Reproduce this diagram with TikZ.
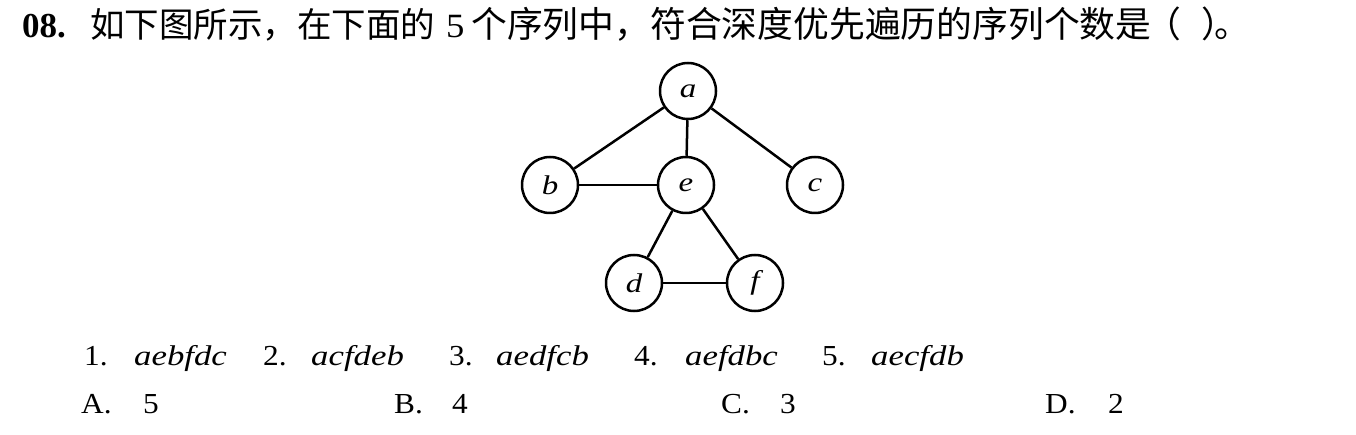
\documentclass[tikz,border=0pt]{standalone}
\usepackage{fontspec}
\setmainfont{Liberation Serif}
\newfontfamily\cjk{Noto Sans CJK SC}
\newfontfamily\romfont{Liberation Serif}[FakeStretch=1.08]
\newfontfamily\itfont{Liberation Serif Italic}[FakeStretch=1.22]
\begin{document}
\begin{tikzpicture}[x=1pt,y=-1pt,
  vtx/.style={draw,circle,line width=2.5pt,minimum size=56pt,inner sep=0pt,font=\fontsize{27}{30}\selectfont\itfont},
  edge/.style={line width=2.5pt},
  ttl/.style={anchor=base west,inner sep=0pt,font=\fontsize{35.8}{40}\selectfont\cjk},
  txt/.style={anchor=base west,inner sep=0pt,font=\fontsize{29}{34}\selectfont\romfont},
  seq/.style={anchor=base west,inner sep=0pt,font=\fontsize{28.5}{34}\selectfont\itfont}]
\path[use as bounding box,fill=white] (0,0) rectangle (1356,435);
% title
\node[anchor=base west,inner sep=0pt,font=\fontsize{35}{40}\selectfont\bfseries] (num) at (22,38) {08.};
\node[ttl,font=\fontsize{34.5}{40}\selectfont\cjk] (t1) at (90,38) {如下图所示，在下面的};
\node[anchor=base west,inner sep=0pt,font=\fontsize{34}{40}\selectfont\romfont] (t5) at (446,38) {5};
\node[ttl] (t2) at (471,38) {个序列中，符合深度优先遍历的序列个数是};
\node[ttl] (t3) at (1145,38) {（};
\node[ttl] (t4) at (1201,38) {）};
\node[ttl] (t6) at (1214,38) {。};
% graph
\node[vtx] (a) at (688,91) {a};
\node[vtx] (b) at (550,185) {b};
\node[vtx] (e) at (686,185) {e};
\node[vtx] (c) at (815,185) {c};
\node[vtx] (d) at (634,283) {d};
\node[vtx] (f) at (755,283) {f};
\draw[edge] (a) -- (b);
\draw[edge] (a) -- (e);
\draw[edge] (a) -- (c);
\draw[edge] (b) -- (e);
\draw[edge] (e) -- (d);
\draw[edge] (e) -- (f);
\draw[edge] (d) -- (f);
% sequences
\node[txt] (n1) at (84,365) {1.};
\node[seq] (s1) at (134,365) {aebfdc};
\node[txt] (n2) at (263,365) {2.};
\node[seq] (s2) at (311,365) {acfdeb};
\node[txt] (n3) at (449,365) {3.};
\node[seq] (s3) at (496,365) {aedfcb};
\node[txt] (n4) at (634,365) {4.};
\node[seq] (s4) at (685,365) {aefdbc};
\node[txt] (n5) at (822,365) {5.};
\node[seq] (s5) at (871,365) {aecfdb};
% options
\node[txt] (oA) at (81,413) {A.};
\node[txt] (vA) at (143,413) {5};
\node[txt] (oB) at (394,413) {B.};
\node[txt] (vB) at (452,413) {4};
\node[txt] (oC) at (721,413) {C.};
\node[txt] (vC) at (780,413) {3};
\node[txt] (oD) at (1045,413) {D.};
\node[txt] (vD) at (1108,413) {2};
\end{tikzpicture}
\end{document}
